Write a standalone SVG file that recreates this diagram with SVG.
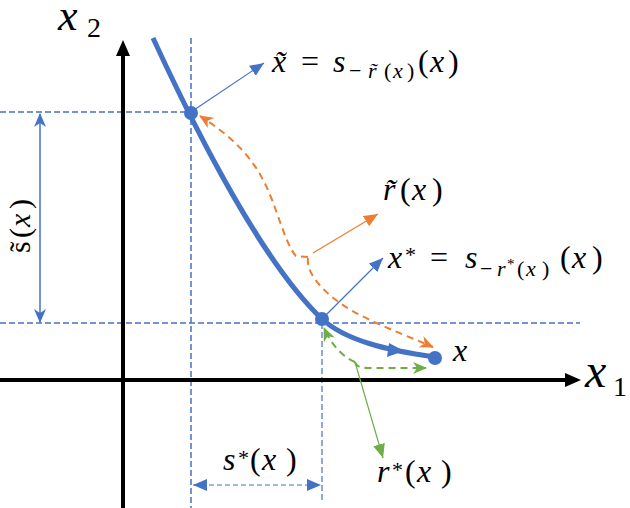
<svg xmlns="http://www.w3.org/2000/svg" width="630" height="508" viewBox="0 0 630 508">
<style>
.lbl{font-family:serif;fill:#000}
.it{font-style:italic}
.guide{stroke:#4472C4;stroke-width:1.5;stroke-dasharray:6 3;fill:none}
.thin{stroke-width:1.2;fill:none}
.dash{stroke-width:2;stroke-dasharray:7 5;fill:none}
.axis{stroke:#000;stroke-width:4;fill:none}
</style>
<defs>
<marker id="triB" markerUnits="userSpaceOnUse" markerWidth="14" markerHeight="12" refX="14" refY="6" orient="auto-start-reverse"><path d="M0,0 L14,6 L0,12 z" fill="#4472C4"/></marker>
<marker id="triO" markerUnits="userSpaceOnUse" markerWidth="14" markerHeight="12" refX="14" refY="6" orient="auto"><path d="M0,0 L14,6 L0,12 z" fill="#ED7D31"/></marker>
<marker id="triG" markerUnits="userSpaceOnUse" markerWidth="14" markerHeight="12" refX="14" refY="6" orient="auto"><path d="M0,0 L14,6 L0,12 z" fill="#70AD47"/></marker>
<marker id="stO" markerUnits="userSpaceOnUse" markerWidth="14" markerHeight="12" refX="13" refY="6" orient="auto"><path d="M0,0 L14,6 L0,12 L4,6 z" fill="#ED7D31"/></marker>
<marker id="stG" markerUnits="userSpaceOnUse" markerWidth="14" markerHeight="12" refX="13" refY="6" orient="auto"><path d="M0,0 L14,6 L0,12 L4,6 z" fill="#70AD47"/></marker>
<marker id="stB" markerUnits="userSpaceOnUse" markerWidth="14" markerHeight="12" refX="13" refY="6" orient="auto-start-reverse"><path d="M0,0 L14,6 L0,12 L4,6 z" fill="#4472C4"/></marker>
</defs>

<g id="guides">
<line class="guide" x1="0" y1="112" x2="191" y2="112"/>
<line class="guide" x1="0" y1="323" x2="580" y2="323"/>
<line class="guide" x1="191" y1="38" x2="191" y2="508"/>
<line class="guide" x1="322" y1="323" x2="322" y2="500" style="stroke-width:1.2"/>
</g>

<g id="axes">
<line class="axis" x1="123" y1="508" x2="123" y2="54"/>
<polygon points="123,40 116,56 130,56" fill="#000"/>
<line class="axis" x1="0" y1="380" x2="566" y2="380"/>
<polygon points="581,380 565,373 565,387" fill="#000"/>
</g>

<g id="curve">
<path d="M153,38 C200,140 265,265 322,319 C345,340 385,350 435,357" stroke="#4472C4" stroke-width="5" fill="none"/>
<polygon points="404,351 389,343 387,357" fill="#4472C4"/>
</g>

<g id="connectors">
<line class="thin" stroke="#4472C4" x1="191" y1="112" x2="264" y2="63" marker-end="url(#triB)"/>
<line class="thin" stroke="#4472C4" x1="322" y1="319" x2="383" y2="258" marker-end="url(#triB)"/>
<line class="thin" stroke="#ED7D31" x1="313" y1="253" x2="378" y2="214" marker-end="url(#triO)"/>
<line class="thin" stroke="#70AD47" x1="355" y1="362" x2="383" y2="458" marker-end="url(#triG)"/>
<path class="dash" stroke="#ED7D31" d="M308,257 L296,256 C285,245 275,200 262,178 C250,155 230,135 200,116" marker-end="url(#stO)"/>
<path class="dash" stroke="#ED7D31" d="M308,258 C305,275 330,300 360,315 C385,328 410,337 433,347" marker-end="url(#stO)"/>
<path class="dash" stroke="#70AD47" d="M355,362 C345,358 333,348 324,328" marker-end="url(#stG)"/>
<path class="dash" stroke="#70AD47" d="M355,362 Q356,368 368,368 L426,368" marker-end="url(#stG)"/>
<line stroke="#4472C4" stroke-width="1.5" x1="40" y1="114" x2="40" y2="322" marker-start="url(#stB)" marker-end="url(#stB)"/>
<line class="thin" stroke="#4472C4" stroke-dasharray="5 3" x1="193" y1="485" x2="321" y2="485" marker-start="url(#triB)" marker-end="url(#triB)"/>
</g>

<g id="points" fill="#4472C4">
<circle cx="191" cy="113" r="7"/>
<circle cx="322" cy="319" r="7"/>
<circle cx="435" cy="358" r="7"/>
</g>

<g id="labels">
<text class="lbl" x="58" y="30" font-size="44"><tspan class="it">x</tspan><tspan x="87" y="37" font-size="28">2</tspan></text>
<text class="lbl" x="585" y="387" font-size="48"><tspan class="it">x</tspan><tspan x="613" y="396" font-size="28">1</tspan></text>
<text class="lbl it" x="453" y="361" font-size="32">x</text>
<text class="lbl" font-size="32" y="72"><tspan class="it" x="272">x̃</tspan><tspan x="301">=</tspan><tspan class="it" x="333">s</tspan><tspan font-size="22" y="78" x="349">−</tspan><tspan class="it" font-size="22" y="78" x="368">r̃</tspan><tspan font-size="22" y="78" x="384">(</tspan><tspan class="it" font-size="22" y="78" x="393">x</tspan><tspan font-size="22" y="78" x="407">)</tspan><tspan y="72" x="418">(</tspan><tspan class="it" x="430">x</tspan><tspan x="448">)</tspan></text>
<text class="lbl" font-size="32" y="200"><tspan class="it" x="383">r̃</tspan><tspan x="400">(</tspan><tspan class="it" x="412">x</tspan><tspan x="432">)</tspan></text>
<text class="lbl" font-size="32" y="268"><tspan class="it" x="388">x</tspan><tspan font-size="22" y="262" x="405">*</tspan><tspan y="268" x="430">=</tspan><tspan class="it" x="465">s</tspan><tspan font-size="22" y="276" x="480">−</tspan><tspan class="it" font-size="22" y="276" x="497">r</tspan><tspan font-size="15" y="269" x="507">*</tspan><tspan font-size="22" y="276" x="517">(</tspan><tspan class="it" font-size="22" y="276" x="526">x</tspan><tspan font-size="22" y="276" x="542">)</tspan><tspan y="268" x="560">(</tspan><tspan class="it" x="572">x</tspan><tspan x="592">)</tspan></text>
<text class="lbl" font-size="32" y="470"><tspan class="it" x="223">s</tspan><tspan font-size="22" y="465" x="238">*</tspan><tspan y="470" x="250">(</tspan><tspan class="it" x="262">x</tspan><tspan x="286">)</tspan></text>
<text class="lbl" font-size="32" y="482"><tspan class="it" x="377">r</tspan><tspan font-size="22" y="477" x="392">*</tspan><tspan y="482" x="405">(</tspan><tspan class="it" x="417">x</tspan><tspan x="441">)</tspan></text>
<text class="lbl" font-size="30" transform="translate(30,253) rotate(-90)"><tspan x="0">s̃</tspan><tspan x="15">(</tspan><tspan class="it" x="26">x</tspan><tspan x="44">)</tspan></text>
</g>
</svg>
